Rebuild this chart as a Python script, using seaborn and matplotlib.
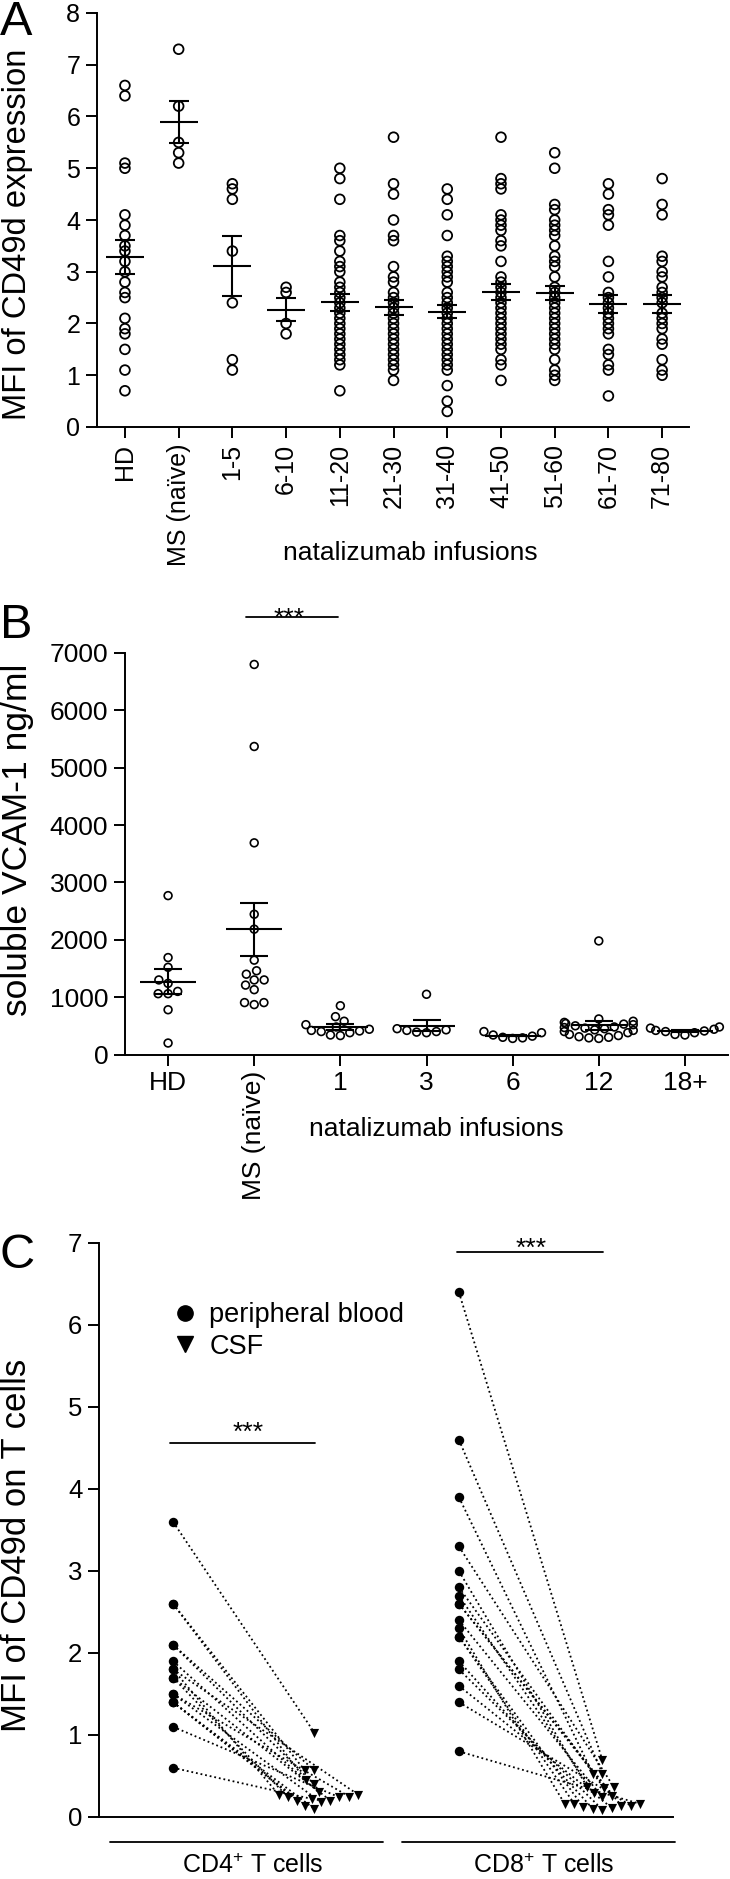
import numpy as np
import pandas as pd
import matplotlib
matplotlib.use("Agg")
import matplotlib.pyplot as plt
from matplotlib.lines import Line2D
import seaborn as sns

# ----------------------------------------
# Panel A: MFI of CD49d expression per infusion group
# ----------------------------------------
a_groups = ["HD", "MS (naïve)", "1-5", "6-10", "11-20", "21-30",
            "31-40", "41-50", "51-60", "61-70", "71-80"]

a_hd = [6.6, 6.4, 5.1, 5.0, 4.1, 3.9, 3.7, 3.5, 3.4, 3.2, 3.0, 2.8, 2.6, 2.5,
        2.1, 1.9, 1.8, 1.5, 1.1, 0.7]
a_ms = [7.3, 6.2, 5.5, 5.3, 5.1]
a_1_5 = [4.7, 4.6, 4.4, 3.4, 2.4, 1.3, 1.1]
a_6_10 = [2.7, 2.6, 2.0, 1.8]
a_11_20 = [5.0, 4.8, 4.4, 3.7, 3.6, 3.4, 3.2, 3.1, 3.0, 2.8, 2.7, 2.6, 2.5, 2.4,
           2.3, 2.2, 2.1, 2.0, 1.9, 1.8, 1.7, 1.6, 1.5, 1.4, 1.3, 1.2, 0.7]
a_21_30 = [5.6, 4.7, 4.5, 4.0, 3.7, 3.6, 3.1, 2.9, 2.8, 2.6, 2.5, 2.4, 2.3, 2.2,
           2.1, 2.0, 1.9, 1.8, 1.7, 1.6, 1.5, 1.4, 1.3, 1.2, 1.1, 0.9]
a_31_40 = [4.6, 4.4, 4.1, 3.7, 3.3, 3.2, 3.1, 3.0, 2.9, 2.8, 2.6, 2.5, 2.4, 2.3,
           2.2, 2.1, 2.0, 1.9, 1.8, 1.7, 1.6, 1.5, 1.4, 1.3, 1.2, 1.1, 0.8, 0.5, 0.3]
a_41_50 = [5.6, 4.8, 4.7, 4.6, 4.1, 4.0, 3.9, 3.8, 3.6, 3.5, 3.2, 2.9, 2.8, 2.7,
           2.6, 2.5, 2.4, 2.3, 2.2, 2.1, 2.0, 1.9, 1.8, 1.7, 1.6, 1.5, 1.3, 1.2, 0.9]
a_51_60 = [5.3, 5.0, 4.3, 4.2, 4.0, 3.9, 3.8, 3.7, 3.5, 3.3, 3.2, 3.1, 2.9, 2.7,
           2.6, 2.5, 2.4, 2.3, 2.2, 2.1, 2.0, 1.9, 1.8, 1.7, 1.6, 1.5, 1.3, 1.1, 1.0, 0.9]
a_61_70 = [4.7, 4.5, 4.2, 4.1, 3.9, 3.2, 2.9, 2.6, 2.5, 2.4, 2.3, 2.2, 2.1, 2.0,
           1.9, 1.8, 1.5, 1.4, 1.2, 1.1, 0.6]
a_71_80 = [4.8, 4.3, 4.1, 3.3, 3.2, 3.0, 2.9, 2.7, 2.6, 2.5, 2.4, 2.2, 2.1, 2.0,
           1.9, 1.7, 1.6, 1.3, 1.1, 1.0]

a_means = [3.28, 5.89, 3.12, 2.27, 2.41, 2.31, 2.23, 2.61, 2.59, 2.38, 2.38]
a_sems = [0.33, 0.41, 0.58, 0.22, 0.16, 0.15, 0.13, 0.15, 0.13, 0.18, 0.17]

# ----------------------------------------
# Panel B: soluble VCAM-1 (ng/ml)
# ----------------------------------------
b_groups = ["HD", "MS (naïve)", "1", "3", "6", "12", "18+"]

b_hd = [2770, 1690, 1520, 1300, 1240, 1100, 1060, 1060, 780, 200]
b_ms = [6800, 5370, 3690, 2445, 2185, 1645, 1460, 1400, 1300, 1300, 1210,
        1130, 905, 870, 905]
b_1 = [850, 660, 580, 520, 480, 440, 420, 410, 400, 380, 340, 330]
b_3 = [1050, 450, 420, 390, 380, 400, 430]
b_6 = [380, 320, 290, 280, 300, 340, 400]
b_12 = [1980, 620, 580, 560, 540, 530, 520, 500, 480, 470, 460, 450, 430,
        420, 400, 380, 350, 330, 310, 300, 290, 280]
b_18 = [480, 460, 440, 420, 410, 400, 380, 350, 340]

b_means = [1270, 2180, 485, 503, 330, 508, 409]
b_sems = [220, 460, 52, 98, 15, 75, 20]

# ----------------------------------------
# Panel C: paired blood / CSF values
# ----------------------------------------
c_cells = ["CD4$^{\\mathrm{+}}$ T cells", "CD8$^{\\mathrm{+}}$ T cells"]

c4_blood = [3.6, 2.6, 2.6, 2.1, 2.1, 1.9, 1.8, 1.8, 1.7, 1.7, 1.5, 1.5, 1.4,
            1.4, 1.4, 1.1, 0.6]
c4_csf = [1.03, 0.57, 0.45, 0.40, 0.57, 0.30, 0.27, 0.27, 0.24, 0.20, 0.25,
          0.18, 0.14, 0.10, 0.20, 0.24, 0.22]
c8_blood = [6.4, 4.6, 3.9, 3.3, 3.0, 2.8, 2.7, 2.6, 2.6, 2.4, 2.3, 2.2, 2.2,
            1.9, 1.8, 1.6, 1.4, 0.8]
c8_csf = [0.69, 0.53, 0.53, 0.37, 0.37, 0.35, 0.29, 0.26, 0.14, 0.24, 0.16,
          0.16, 0.12, 0.10, 0.09, 0.11, 0.14, 0.16]

# ===========================================================
# STYLE
# ===========================================================
sns.set_style("ticks")
plt.rcParams["font.family"] = ["Liberation Sans", "DejaVu Sans"]
plt.rcParams["mathtext.fontset"] = "custom"
plt.rcParams["mathtext.rm"] = "Liberation Sans"
plt.rcParams["mathtext.it"] = "Liberation Sans:italic"
plt.rcParams["mathtext.bf"] = "Liberation Sans:bold"
plt.rcParams["axes.edgecolor"] = "black"
plt.rcParams["axes.linewidth"] = 1.4
plt.rcParams["text.color"] = "black"
plt.rcParams["axes.labelcolor"] = "black"
for ax_name in ["xtick", "ytick"]:
    plt.rcParams[ax_name + ".color"] = "black"
    plt.rcParams[ax_name + ".major.width"] = 1.4
    plt.rcParams[ax_name + ".major.size"] = 8
    plt.rcParams[ax_name + ".major.pad"] = 4
    plt.rcParams[ax_name + ".direction"] = "out"

W, H = 730, 1879
fig = plt.figure(figsize=(W / 100, H / 100), dpi=100)


def add_axes_px(left, top, right, bottom):
    return fig.add_axes([left / W, 1 - bottom / H, (right - left) / W, (bottom - top) / H])


ax_a = add_axes_px(97, 13, 689, 427)
ax_b = add_axes_px(125, 653, 728, 1054.5)
ax_c = add_axes_px(99, 1243, 673, 1817)

# ----------------------------------------
# A
# ----------------------------------------
a_values = [a_hd, a_ms, a_1_5, a_6_10, a_11_20, a_21_30, a_31_40,
            a_41_50, a_51_60, a_61_70, a_71_80]
df_a = pd.DataFrame({
    "group": np.repeat(a_groups, [len(v) for v in a_values]),
    "mfi": np.concatenate(a_values),
})

sns.stripplot(data=df_a, x="group", y="mfi", order=a_groups, jitter=False,
              color="black", facecolor="none", edgecolor="black",
              linewidth=1.3, size=7, ax=ax_a)
ax_a.errorbar(np.arange(len(a_groups)), a_means, yerr=a_sems, fmt="_",
              color="black", markersize=27, mew=1.5, elinewidth=1.5,
              capsize=7.5, capthick=1.5, zorder=4)

ax_a.set_xlim(-0.52, 10.5)
ax_a.set_ylim(0, 8)
ax_a.set_yticks(range(0, 9))
ax_a.tick_params(labelsize=18)
ax_a.tick_params(axis="x", labelrotation=90)
ax_a.set_ylabel("MFI of CD49d expression", fontsize=23.6)
ax_a.yaxis.set_label_coords(-0.108, 0.466)
ax_a.set_xlabel("natalizumab infusions", fontsize=19)
ax_a.xaxis.set_label_coords(0.53, -0.275)
sns.despine(ax=ax_a)

# ----------------------------------------
# B
# ----------------------------------------
b_values = [b_hd, b_ms, b_1, b_3, b_6, b_12, b_18]
df_b = pd.DataFrame({
    "group": np.repeat(b_groups, [len(v) for v in b_values]),
    "vcam": np.concatenate(b_values),
})

ax_b.set_ylim(0, 7000)
sns.swarmplot(data=df_b, x="group", y="vcam", order=b_groups,
              color="black", facecolor="none", edgecolor="black",
              linewidth=1.2, size=5.6, ax=ax_b)
ax_b.errorbar(np.arange(len(b_groups)), b_means, yerr=b_sems, fmt="_",
              color="black", markersize=41, mew=1.5, elinewidth=1.5,
              capsize=10.4, capthick=1.5, zorder=4)

ax_b.set_xlim(-0.5, 6.5)
ax_b.set_ylim(0, 7000)
ax_b.set_yticks(range(0, 7001, 1000))
ax_b.tick_params(labelsize=19)
ax_b.set_xticks(range(len(b_groups)))
for lbl in ax_b.set_xticklabels(b_groups):
    if lbl.get_text() == "MS (naïve)":
        lbl.set_rotation(90)
ax_b.set_ylabel("soluble VCAM-1 ng/ml", fontsize=25.5)
ax_b.yaxis.set_label_coords(-0.151, 0.535)
ax_b.set_xlabel("natalizumab infusions", fontsize=19)
ax_b.xaxis.set_label_coords(0.516, -0.156)
sns.despine(ax=ax_b)

ax_b.plot([0.9, 1.97], [7620, 7620], color="black", lw=1.3, clip_on=False)
ax_b.text(1.4, 7465, "***", ha="center", va="baseline", fontsize=19)

# ----------------------------------------
# C
# ----------------------------------------
x_pos = {"CD4 blood": 1.29, "CD4 CSF": 3.75, "CD8 blood": 6.27, "CD8 CSF": 8.77}

df_blood = pd.DataFrame({
    "x": [x_pos["CD4 blood"]] * len(c4_blood) + [x_pos["CD8 blood"]] * len(c8_blood),
    "y": c4_blood + c8_blood,
})
df_csf = pd.DataFrame({
    "x": [x_pos["CD4 CSF"]] * len(c4_csf) + [x_pos["CD8 CSF"]] * len(c8_csf),
    "y": c4_csf + c8_csf,
})

ax_c.set_xlim(0, 10)
ax_c.set_ylim(0, 7)

sns.scatterplot(data=df_blood, x="x", y="y", marker="o", s=6.8 ** 2,
                color="black", linewidth=0, zorder=3, ax=ax_c)
n_before = len(ax_c.collections)
sns.swarmplot(data=df_csf, x="x", y="y", native_scale=True, orient="x",
              marker="v", size=6.6, color="black", linewidth=0, ax=ax_c)
csf_colls = ax_c.collections[n_before:]

ax_c.set_xlim(0, 10)
ax_c.set_ylim(0, 7)
ax_c.set_yticks(range(0, 8))
ax_c.set_xticks([])
ax_c.tick_params(labelsize=18.5)
sns.despine(ax=ax_c)

# swarm positions are computed at draw time
fig.canvas.draw()
csf_xy = np.concatenate([c.get_offsets() for c in csf_colls])

line_rows = []
blood_all = [(x_pos["CD4 blood"], v) for v in c4_blood] + \
            [(x_pos["CD8 blood"], v) for v in c8_blood]
for i, (bx, by) in enumerate(blood_all):
    line_rows.append({"pair": i, "x": bx, "y": by})
    line_rows.append({"pair": i, "x": csf_xy[i, 0], "y": csf_xy[i, 1]})
df_lines = pd.DataFrame(line_rows)

sns.lineplot(data=df_lines, x="x", y="y", units="pair", estimator=None,
             sort=False, color="black", linewidth=1.3,
             linestyle=(0, (1, 1.6)), zorder=1, ax=ax_c)

ax_c.set_xlim(0, 10)
ax_c.set_ylim(0, 7)
ax_c.set_xlabel("")
ax_c.set_ylabel("MFI of CD49d on T cells", fontsize=25)
ax_c.yaxis.set_label_coords(-0.115, 0.474)

# significance bars
ax_c.plot([1.24, 3.76], [4.56, 4.56], color="black", lw=1.3)
ax_c.text(2.6, 4.6, "***", ha="center", va="baseline", fontsize=19)
ax_c.plot([6.24, 8.78], [6.89, 6.89], color="black", lw=1.3)
ax_c.text(7.52, 6.84, "***", ha="center", va="baseline", fontsize=19)

# group lines below the axis
trans = ax_c.get_xaxis_transform()
for (x0, x1), label in zip([(0.19, 4.95), (5.28, 10.03)], c_cells):
    ax_c.plot([x0, x1], [-0.0436, -0.0436], color="black", lw=1.3,
              transform=trans, clip_on=False)
    ax_c.text((x0 + x1) / 2 + 0.1, -0.064, label, ha="center", va="top",
              fontsize=18, transform=trans)

handles = [
    Line2D([], [], marker="o", ls="none", color="black", markersize=11,
           label="peripheral blood"),
    Line2D([], [], marker="v", ls="none", color="black", markersize=11,
           label="CSF"),
]
ax_c.legend(handles=handles, loc="upper left", bbox_to_anchor=(0.127, 0.897),
            frameon=False, fontsize=19.5, handlelength=1.0, handletextpad=0.38,
            labelspacing=0.2, borderaxespad=0, borderpad=0)

# panel letters
fig.text(0.0, 1 - 35 / H, "A", fontsize=35, ha="left", va="baseline")
fig.text(0.0, 1 - 638 / H, "B", fontsize=35, ha="left", va="baseline")
fig.text(0.0, 1 - 1268 / H, "C", fontsize=35, ha="left", va="baseline")

fig.savefig("out.png", dpi=100)
